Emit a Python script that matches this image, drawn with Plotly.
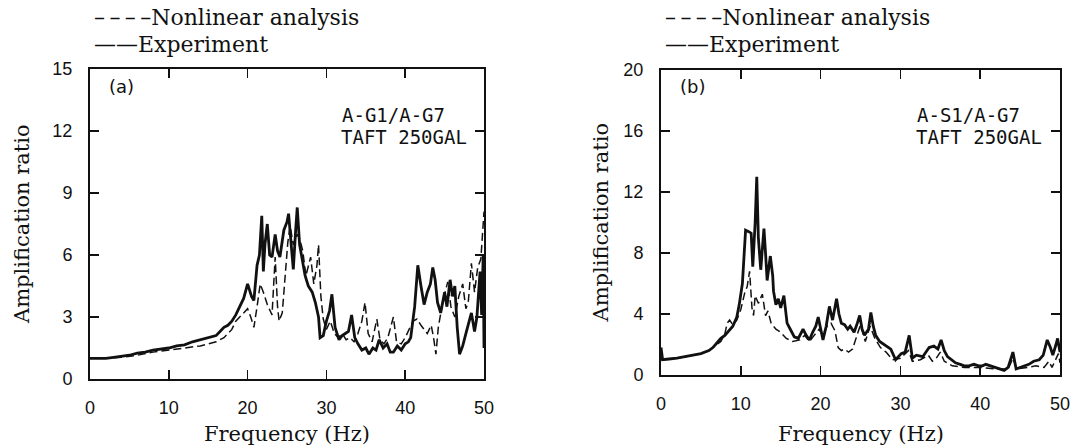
import plotly.graph_objects as go

# ---------------- data: panel (a) A-G1/A-G7 ----------------
a_exp_f = [0, 1, 2, 3, 4, 5, 6, 7, 8, 9, 10, 11, 12, 13, 14, 15, 16, 16.5, 17, 17.5, 18, 18.5, 19, 19.5,
           20, 20.5, 20.8, 21.2, 21.5, 21.8, 22, 22.2, 22.5, 22.8, 23.1, 23.5, 23.8, 24.1, 24.6, 25.0,
           25.2, 25.6, 25.8, 26.1, 26.3, 26.6, 26.9, 27.3, 27.7, 28.2, 28.6, 29.0, 29.2, 29.6, 30.0,
           30.4, 30.7, 31.1, 31.6, 32.0, 32.4, 32.8, 33.2, 33.6, 34.0, 34.5, 35.0, 35.4, 35.9, 36.3,
           36.7, 37.2, 37.7, 38.1, 38.5, 39.0, 39.5, 40.0, 40.4, 40.7, 41.2, 41.6, 42.0, 42.4, 42.8,
           43.2, 43.5, 43.8, 44.1, 44.5, 45.0, 45.3, 45.7, 46.0, 46.3, 46.6, 46.9, 47.3, 47.7, 48.0,
           48.4, 48.8, 49.1, 49.5, 49.7, 49.9, 50]
a_exp = [1.0, 1.0, 1.0, 1.05, 1.1, 1.15, 1.25, 1.3, 1.4, 1.45, 1.5, 1.6, 1.65, 1.8, 1.9, 2.0, 2.1, 2.3,
         2.5, 2.6, 2.8, 3.1, 3.5, 3.9, 4.6, 4.0, 3.8, 5.5, 6.0, 7.9, 5.2, 6.5, 7.5, 6.0, 5.9, 7.0, 6.2,
         5.9, 7.2, 7.6, 8.0, 6.0, 5.3, 7.2, 8.3, 6.5, 5.8, 5.0, 4.5, 4.2, 3.7, 3.0, 2.0, 2.1, 2.8, 3.3,
         4.1, 2.5, 1.9, 2.1, 2.2, 2.3, 3.1, 2.0, 1.7, 1.4, 1.5, 1.2, 1.5, 1.4, 1.9, 1.5, 1.7, 1.3, 1.3,
         1.6, 1.4, 1.7, 1.8, 2.0, 3.5, 5.5, 4.5, 3.6, 4.2, 4.6, 5.4, 4.8, 3.7, 3.2, 4.2, 3.5, 4.8, 4.0,
         4.5, 2.5, 1.2, 1.6, 2.2, 2.6, 3.2, 2.3, 3.0, 5.2, 3.1, 6.0, 1.5]

a_ana_f = [0, 2, 4, 6, 8, 10, 12, 14, 15, 16, 17, 17.5, 18, 18.5, 19, 19.5, 20, 20.4, 20.8, 21.2,
           21.6, 22.0, 22.5, 23.1, 23.5, 23.8, 24.0, 24.4, 24.8, 25.1, 25.4, 25.8, 26.3, 26.6, 27.0,
           27.4, 28.0, 28.4, 28.8, 29.0, 29.3, 29.6, 30.0, 30.5, 31.0, 31.5, 32.0, 32.5, 33.0, 33.5,
           34.0, 34.5, 34.9, 35.3, 35.8, 36.4, 36.8, 37.3, 37.8, 38.5, 38.9, 39.5, 40.0, 40.5, 41.0,
           41.5, 42.0, 42.8, 43.3, 43.6, 43.9, 44.2, 44.8, 45.4, 45.8, 46.3, 46.8, 47.3, 47.7, 48.0,
           48.4, 48.8, 49.2, 49.6, 50]
a_ana = [1.0, 1.0, 1.05, 1.15, 1.3, 1.4, 1.5, 1.6, 1.7, 1.8, 2.0, 2.2, 2.4, 2.8, 3.0, 3.2, 3.4, 3.0,
         2.5, 3.5, 4.6, 4.2, 3.6, 3.1, 5.9, 3.5, 2.8, 3.2, 5.3, 6.6, 7.4, 6.5, 7.0, 6.8, 6.2, 5.0, 5.9,
         4.6, 5.5, 6.5, 4.0, 2.9, 2.4, 2.8, 2.2, 2.0, 2.2, 1.9, 2.0, 1.8, 2.2, 2.8, 3.7, 2.2, 1.8, 2.9,
         1.9, 1.7, 2.0, 3.0, 1.8, 1.7, 2.0, 2.4, 2.8, 2.9, 2.6, 2.2, 2.6, 2.0, 1.2, 2.5, 3.8, 4.7, 3.5,
         3.0, 4.0, 4.6, 3.4, 3.7, 5.6, 4.2, 5.4, 5.8, 8.1]

# ---------------- data: panel (b) A-S1/A-G7 ----------------
b_exp_f = [0, 0.2, 1, 2, 3, 4, 5, 6, 6.5, 7, 7.5, 8, 8.5, 9, 9.5, 9.8, 10.2, 10.6, 11.0, 11.3, 11.5,
           11.8, 12.0, 12.2, 12.5, 12.9, 13.1, 13.3, 13.7, 14.0, 14.1, 14.4, 14.7, 15.0, 15.4, 15.8,
           16.2, 16.7, 17.2, 17.8, 18.2, 18.6, 19.0, 19.4, 19.7, 20.0, 20.3, 20.7, 21.1, 21.5, 22.0,
           22.3, 22.6, 23.0, 23.4, 23.7, 24.2, 24.6, 24.9, 25.2, 25.5, 26.0, 26.3, 26.6, 26.9, 27.4,
           28.2, 28.8, 29.4, 30.1, 30.6, 31.1, 31.5, 32.0, 32.8, 33.2, 33.6, 34.2, 34.7, 35.1, 35.5,
           35.9, 36.4, 36.9, 37.5, 38.0, 38.6, 39.2, 39.8, 40.3, 40.7, 41.3, 41.8, 42.4, 43.0, 43.5,
           44.1, 44.5, 45.0, 45.6, 46.1, 46.7, 47.4, 47.9, 48.4, 48.8, 49.1, 49.5, 49.7, 50]
b_exp = [1.8, 1.0, 1.05, 1.1, 1.2, 1.3, 1.4, 1.6, 1.8, 2.1, 2.4, 2.6, 2.9, 3.2, 3.8, 4.6, 6.0, 9.5,
         9.4, 9.3, 7.1, 10.0, 13.0, 9.0, 6.9, 9.6, 8.0, 6.2, 7.8, 6.5, 5.5, 4.6, 5.0, 4.4, 5.2, 3.4,
         3.0, 2.5, 2.4, 3.0, 2.6, 2.3, 2.8, 3.2, 3.8, 3.0, 2.3, 3.2, 4.5, 3.6, 5.0, 4.0, 3.4, 3.3, 3.0,
         3.2, 2.8, 3.4, 3.9, 3.0, 2.6, 3.0, 4.1, 3.2, 2.6, 2.2, 1.9, 1.7, 1.0, 1.4, 1.5, 2.6, 1.1, 1.3,
         1.2, 1.5, 1.8, 1.9, 1.7, 2.3, 1.6, 1.2, 1.0, 0.8, 0.7, 0.6, 0.6, 0.7, 0.6, 0.6, 0.7, 0.6, 0.5,
         0.4, 0.3, 0.5, 1.5, 0.4, 0.5, 0.6, 0.7, 0.9, 1.0, 1.3, 2.3, 1.8, 1.3, 2.0, 2.4, 1.5]

b_ana_f = [0, 1, 2, 3, 4, 5, 6, 7, 7.5, 8, 8.3, 8.6, 9, 9.5, 10, 10.5, 10.8, 11.1, 11.4, 11.6, 11.8,
           12.2, 12.5, 12.7, 13.1, 13.4, 13.8, 14.4, 15.0, 15.7, 16.5, 17.4, 18, 18.6, 19.2, 19.8,
           20.3, 20.8, 21.3, 21.8, 22.2, 22.6, 23.0, 23.5, 24.0, 24.6, 25.0, 25.6, 26.2, 26.8, 27.5,
           28.2, 29, 30, 31, 31.5, 32.5, 33.5, 34, 34.5, 35, 35.5, 36.5, 38, 40, 42, 43.5, 44.1, 44.6,
           46, 47, 48, 48.6, 49, 49.5, 49.8, 50]
b_ana = [1.0, 1.05, 1.1, 1.2, 1.3, 1.4, 1.6, 2.0, 2.2, 2.7, 3.4, 3.6, 3.3, 3.6, 4.3, 5.4, 5.8, 6.8, 4.4,
         3.9, 5.2, 4.7, 5.0, 5.3, 3.9, 4.2, 3.4, 3.0, 2.8, 2.4, 2.2, 2.3, 2.6, 2.2, 2.6, 3.0, 2.6, 3.2,
         3.4, 2.9, 1.8, 1.6, 1.7, 1.5, 1.7, 2.6, 3.3, 2.2, 3.2, 2.4, 1.8, 1.5, 1.0, 1.1, 1.6, 0.9, 1.0,
         1.3, 0.9, 1.1, 1.5, 0.9, 0.6, 0.5, 0.5, 0.4, 0.4, 1.1, 0.4, 0.5, 0.6, 0.5, 0.9, 0.5, 1.0, 1.4, 0.8]

a_yticks = [0, 3, 6, 9, 12, 15]
b_yticks = [0, 4, 8, 12, 16, 20]
x_ticks = [0, 10, 20, 30, 40, 50]

# ---------------- figure ----------------
W, H = 1074, 446

def px(x):
    return x / W

def py(y):
    return 1 - y / H

fig = go.Figure()

dash_style = dict(color="#111", width=1.5, dash="8px,4px")
solid_style = dict(color="#111", width=2.8)
fig.add_trace(go.Scatter(x=a_ana_f, y=a_ana, mode="lines", xaxis="x", yaxis="y",
                         line=dash_style, showlegend=False, hoverinfo="skip"))
fig.add_trace(go.Scatter(x=a_exp_f, y=a_exp, mode="lines", xaxis="x", yaxis="y",
                         line=solid_style, showlegend=False, hoverinfo="skip"))
fig.add_trace(go.Scatter(x=b_ana_f, y=b_ana, mode="lines", xaxis="x2", yaxis="y2",
                         line=dash_style, showlegend=False, hoverinfo="skip"))
fig.add_trace(go.Scatter(x=b_exp_f, y=b_exp, mode="lines", xaxis="x2", yaxis="y2",
                         line=solid_style, showlegend=False, hoverinfo="skip"))

tick_font = dict(family="Liberation Sans", size=18, color="#111")

def xaxis(domain, anchor):
    return dict(domain=domain, anchor=anchor, range=[0, 50], tickvals=x_ticks,
                ticks="inside", ticklen=9, tickwidth=1.5, tickcolor="#111",
                showline=True, linewidth=2, linecolor="#111", mirror="ticks",
                showgrid=False, zeroline=False, tickfont=tick_font, ticklabelstandoff=11,
                automargin=False)

def yaxis(domain, anchor, rng, tv):
    return dict(domain=domain, anchor=anchor, range=rng, tickvals=tv,
                ticks="inside", ticklen=9, tickwidth=1.5, tickcolor="#111",
                showline=True, linewidth=2, linecolor="#111", mirror="ticks",
                showgrid=False, zeroline=False, tickfont=tick_font, ticklabelstandoff=12,
                automargin=False)

xa_dom = [px(90), px(484)]
ya_dom = [py(379), py(69)]
xb_dom = [px(661), px(1060)]
yb_dom = [py(375), py(70)]

fig.update_layout(
    width=W, height=H, margin=dict(l=0, r=0, t=0, b=0, autoexpand=False),
    paper_bgcolor="white", plot_bgcolor="white",
    xaxis=xaxis(xa_dom, "y"),
    yaxis=yaxis(ya_dom, "x", [0, 15], a_yticks),
    xaxis2=xaxis(xb_dom, "y2"),
    yaxis2=yaxis(yb_dom, "x2", [0, 20], b_yticks),
)

serif_leg = dict(family="DejaVu Serif", size=22, color="#111")
serif_title = dict(family="DejaVu Serif", size=21, color="#111")
mono = dict(family="DejaVu Sans Mono", size=19, color="#111")
paren = dict(family="DejaVu Sans", size=18, color="#111")

def note(text, x, y, font, xanchor="left", angle=0):
    return dict(text=text, x=px(x), y=py(y), xref="paper", yref="paper", xanchor=xanchor,
                yanchor="middle", showarrow=False, font=font, textangle=angle)

ann = []
dashes = "\u2013\u2009\u2013\u2009\u2013\u2009\u2013"
for x0 in (92, 663):
    ann.append(note(dashes + "Nonlinear analysis", x0, 17, serif_leg))
    ann.append(note("\u2014\u2014Experiment", x0, 45, serif_leg))

for (l, r), (t, b), off in (((90, 484), (69, 379), 68), ((661, 1060), (70, 375), 60)):
    ann.append(note("Frequency (Hz)", (l + r) / 2, 434, serif_title, "center"))
    ann.append(note("Amplification ratio", l - off, (t + b) / 2, serif_title, "center", -90))

ann.append(note("(a)", 107, 86, paren))
ann.append(note("(b)", 678, 86, paren))
ann.append(note("A-G1/A-G7", 447, 115, mono, "right"))
ann.append(note("TAFT 250GAL", 469, 137, mono, "right"))
ann.append(note("A-S1/A-G7", 1022, 115, mono, "right"))
ann.append(note("TAFT 250GAL", 1044, 137, mono, "right"))

fig.update_layout(annotations=ann)
# remove the default page margin so the figure sits at the page's top-left corner
fig.write_html("out.html", config={"displayModeBar": False, "staticPlot": True},
               post_script="document.body.style.margin='0px';")
